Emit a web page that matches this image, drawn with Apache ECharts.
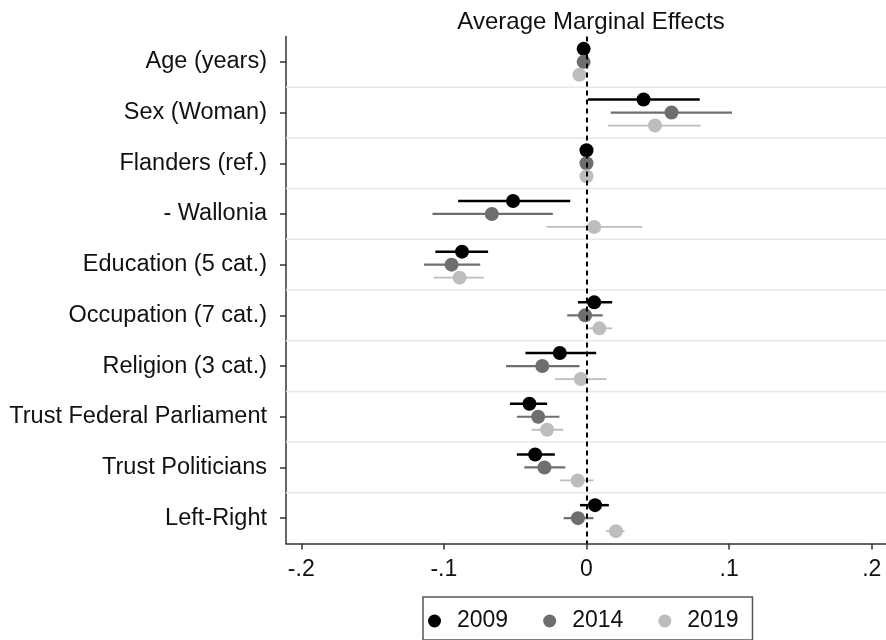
<!DOCTYPE html>
<html>
<head>
<meta charset="utf-8">
<script src="https://cdn.jsdelivr.net/npm/echarts@6/dist/echarts.min.js"></script>
<style>
html,body{margin:0;padding:0;background:#fff;}
#chart{width:886px;height:640px;}
</style>
</head>
<body>
<div id="chart"></div>
<script>
// ---- data ----
const categories = ['Age (years)','Sex (Woman)','Flanders (ref.)','- Wallonia','Education (5 cat.)',
  'Occupation (7 cat.)','Religion (3 cat.)','Trust Federal Parliament','Trust Politicians','Left-Right'];
const years = ['2009','2014','2019'];
// point estimates
const est2009 = [-0.002, 0.040, 0, -0.0515, -0.0873, 0.0054, -0.0187, -0.0400, -0.0360, 0.0060];
const est2014 = [-0.002, 0.0596, 0, -0.0664, -0.0946, -0.0010, -0.0310, -0.0339, -0.0295, -0.0060];
const est2019 = [-0.005, 0.048, 0, 0.0054, -0.0890, 0.0090, -0.0040, -0.0276, -0.0062, 0.0206];
// confidence interval bounds
const lo2009 = [-0.003, 0.001, 0, -0.0900, -0.1060, -0.0060, -0.0428, -0.0537, -0.0488, -0.0046];
const hi2009 = [-0.001, 0.0794, 0, -0.0114, -0.0690, 0.0180, 0.0068, -0.0276, -0.0222, 0.0157];
const lo2014 = [-0.003, 0.017, 0, -0.1080, -0.1140, -0.0135, -0.0564, -0.0488, -0.0436, -0.0160];
const hi2014 = [-0.001, 0.102, 0, -0.0236, -0.0745, 0.0114, -0.0049, -0.0190, -0.0149, 0.0049];
const lo2019 = [-0.006, 0.015, 0, -0.0280, -0.1070, 0.0014, -0.0220, -0.0385, -0.0184, 0.0136];
const hi2019 = [-0.004, 0.080, 0, 0.0390, -0.0720, 0.0180, 0.0140, -0.0163, 0.0049, 0.0266];
const xTicks = [-0.2, -0.1, 0, 0.1, 0.2];
const titleText = 'Average Marginal Effects';

// ---- chart ----
const FONT = 'Liberation Sans, Arial, Helvetica, sans-serif';
const TXT = '#111111';
const chart = echarts.init(document.getElementById('chart'), null, {renderer:'canvas'});

function rows(est, lo, hi){ return est.map((v,i)=>[v, i, lo[i], hi[i]]); }

function makeRender(offsetFrac, color, lw, r){
  return function(params, api){
    const est = api.value(0), idx = api.value(1), lo = api.value(2), hi = api.value(3);
    const band = api.size([0,1])[1];
    const dy = band*offsetFrac;
    const pe = api.coord([est, idx]);
    const pl = api.coord([lo, idx]);
    const ph = api.coord([hi, idx]);
    return {type:'group', children:[
      {type:'line', shape:{x1:pl[0], y1:pl[1]+dy, x2:ph[0], y2:ph[1]+dy}, style:{stroke:color, lineWidth:lw}},
      {type:'circle', shape:{cx:pe[0], cy:pe[1]+dy, r:r}, style:{fill:color}}
    ]};
  };
}

const boundaries = categories.slice(1).map((c,i)=>[0, i+1]);
const colors = ['#000000', '#6e6e6e', '#bdbdbd'];

const option = {
  backgroundColor:'#ffffff',
  animation:false,
  title:{
    text:titleText, left:586, top:5, textAlign:'center',
    textStyle:{fontFamily:FONT, fontSize:24, fontWeight:'normal', color:TXT}
  },
  legend:{
    data: years.map((y,i)=>({name:y, icon:'circle', itemStyle:{color:colors[i]}})),
    left:423, top:597,
    orient:'horizontal',
    itemWidth:13, itemHeight:13, itemGap:35,
    padding:[11,14,6,5],
    borderColor:'#555', borderWidth:1.5, borderRadius:0,
    textStyle:{fontFamily:FONT, fontSize:23, color:TXT, padding:[0,0,0,11], lineHeight:26}
  },
  grid:{left:286, right:0, top:36.5, bottom:96.5, containLabel:false},
  xAxis:{
    type:'value', min:-0.2107, max:0.2100,
    axisLine:{show:true, onZero:false, lineStyle:{color:'#333', width:1.5}},
    axisTick:{show:true, length:6, customValues:xTicks, lineStyle:{color:'#333', width:1.5}},
    axisLabel:{customValues:xTicks, margin:15, fontFamily:FONT, fontSize:23, color:TXT,
      formatter:function(v){ if (Math.abs(v)<1e-9) return '0'; return (v<0?'-':'') + String(Math.abs(v)).replace(/^0/,''); }},
    splitLine:{show:false}
  },
  yAxis:{
    type:'category', inverse:true, data:categories, boundaryGap:true,
    axisLine:{show:true, onZero:false, lineStyle:{color:'#333', width:1.5}},
    axisTick:{show:true, alignWithLabel:true, length:6, lineStyle:{color:'#333', width:1.5}},
    axisLabel:{margin:19, fontFamily:FONT, fontSize:23.5, color:TXT},
    splitLine:{show:false}
  },
  series:[
    {
      type:'custom', name:'grid', silent:true, z:1,
      data: boundaries,
      renderItem:function(params, api){
        const band = api.size([0,1])[1];
        const y = api.coord([0, api.value(1)])[1] - band/2;
        const cs = params.coordSys;
        return {type:'line', shape:{x1:cs.x, y1:y, x2:cs.x+cs.width, y2:y}, style:{stroke:'#e2eaea', lineWidth:1.5}};
      },
      markLine:{
        silent:true, symbol:'none', label:{show:false},
        lineStyle:{color:'#000', type:[5,4], width:2},
        data:[{xAxis:0}]
      }
    },
    {type:'custom', name:'2009', z:3, itemStyle:{color:colors[0]}, data:rows(est2009, lo2009, hi2009), renderItem:makeRender(-0.256, colors[0], 2.5, 7)},
    {type:'custom', name:'2014', z:3, itemStyle:{color:colors[1]}, data:rows(est2014, lo2014, hi2014), renderItem:makeRender(0, colors[1], 2.2, 7)},
    {type:'custom', name:'2019', z:3, itemStyle:{color:colors[2]}, data:rows(est2019, lo2019, hi2019), renderItem:makeRender(0.256, colors[2], 1.8, 7)}
  ]
};
chart.setOption(option);
</script>
</body>
</html>
